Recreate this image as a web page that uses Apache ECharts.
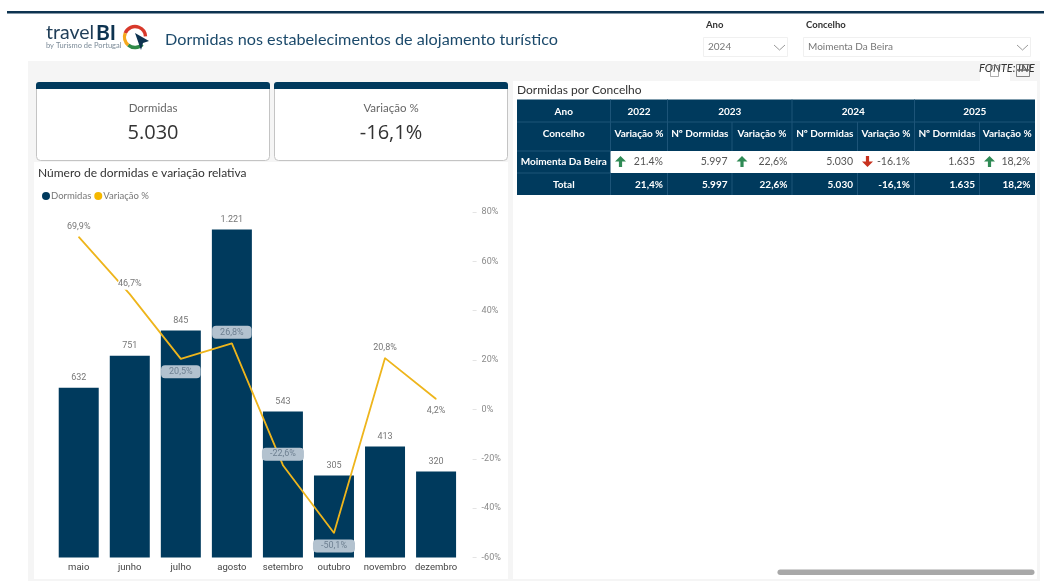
<!DOCTYPE html>
<html>
<head>
<meta charset="utf-8">
<script src="https://cdn.jsdelivr.net/npm/echarts@6/dist/echarts.min.js"></script>
<style>html,body{margin:0;padding:0;background:#fff}#c{width:1044px;height:583px}</style>
</head>
<body>
<div id="c"></div>
<script>
const meses = ['maio','junho','julho','agosto','setembro','outubro','novembro','dezembro'];
const dormidas = [632,751,845,1221,543,305,413,320];
const variacao = [69.9,46.7,20.5,26.8,-22.6,-50.1,20.8,4.2];
const variacaoTicks = [-60,80,20];
const kpiTitulos = ['Dormidas','Variação %'];
const kpiValores = ['5.030','-16,1%'];
const anosCabecalho = ['2022','2023','2024','2025'];
const colunasCabecalho = ['Variação %','Nº Dormidas','Variação %','Nº Dormidas','Variação %','Nº Dormidas','Variação %'];
const linhaConcelho = ['21.4%','5.997','22,6%','5.030','-16.1%','1.635','18,2%'];
const linhaTotal = ['21,4%','5.997','22,6%','5.030','-16,1%','1.635','18,2%'];
const setas = ['up',null,'up',null,'down',null,'up'];

const NAVY = '#003a5d', F = 'Lato, sans-serif', O = '"Open Sans", sans-serif', D = 'Roboto, sans-serif';
const g = [];
const rect = (x,y,w,h,fill,extra={}) => g.push({type:'rect',silent:true,shape:{x,y,width:w,height:h,r:extra.r||0},style:{fill,stroke:extra.stroke,lineWidth:extra.lw||0}});
const text = (x,y,t,font,fill,align='left') => g.push({type:'text',silent:true,style:{x,y,text:t,font,fill,align,verticalAlign:'middle'}});
const poly = (points,stroke,lw=1) => g.push({type:'polyline',silent:true,shape:{points},style:{stroke,lineWidth:lw,fill:null}});
const arc = (cx,cy,r,a,b,stroke,lw) => g.push({type:'arc',silent:true,shape:{cx,cy,r,startAngle:a,endAngle:b,clockwise:true},style:{stroke,lineWidth:lw,fill:null}});

// page chrome
rect(7,11,1037,2.4,'#0d3350');
rect(28,61,1012,520,'#f5f5f5');
rect(34,162,474,417,'#ffffff');
rect(513,81,524,498,'#ffffff');
rect(980,70,30,11,'#ffffff');

// logo and header
text(46,33,'travel','19.5px '+F,'#1f3d57');
text(96,33,'BI','bold 21px '+F,'#0d3350');
text(46,46,'by Turismo de Portugal','7.5px '+F,'#7c8b98');
arc(135,37,10.5,Math.PI*1.12,Math.PI*1.98,'#d8392b',3.4);
arc(135,37,10.5,Math.PI*0.72,Math.PI*1.12,'#f5a81c',3.4);
arc(135,37,10.5,Math.PI*0.25,Math.PI*0.72,'#2f8a48',3.4);
g.push({type:'polygon',silent:true,shape:{points:[[135,33],[149,41],[143,43],[141,50]]},style:{fill:'#0d3350'}});
text(165,40,'Dormidas nos estabelecimentos de alojamento turístico','16.2px '+F,'#1c4a6b');

// slicers
text(706,25,'Ano','bold 9.5px '+F,'#333333');
text(806,25,'Concelho','bold 9.5px '+F,'#333333');
rect(703.5,37.5,84,19,'#ffffff',{stroke:'#f0f0f0',lw:1});
rect(803.5,37.5,227,19,'#ffffff',{stroke:'#f0f0f0',lw:1});
text(708,47,'2024','10px '+F,'#777777');
text(808,47,'Moimenta Da Beira','10px '+F,'#777777');
poly([[774,45],[779.5,50],[785,45]],'#9a9a9a');
poly([[1017,45],[1022.5,50],[1028,45]],'#9a9a9a');

// FONTE note
text(979,68,'FONTE: INE','italic 11px '+F,'#333333');
rect(1016.5,64.5,6,5,'none',{stroke:'#666',lw:0.8});
rect(1023.5,64.5,6,5,'none',{stroke:'#666',lw:0.8});
rect(1016.5,70.5,13,6,'none',{stroke:'#666',lw:0.8});
rect(990.5,65.5,8,11,'none',{stroke:'#777',lw:0.6});

// KPI cards
[[36,233],[274,233]].forEach(([x,w],i)=>{
  rect(x+.5,82.5,w,78,'#ffffff',{stroke:'#c4c4c4',lw:1,r:4});
  rect(x,82,w+1,7,NAVY,{r:[3,3,0,0]});
  text(x+w/2+.5,108,kpiTitulos[i],'11.5px '+F,'#666666','center');
  text(x+w/2+.5,133,kpiValores[i],'20px '+O,'#333333','center');
});
text(38,173,'Número de dormidas e variação relativa','12px '+F,'#333333');
text(517,90,'Dormidas por Concelho','12px '+F,'#333333');

// table
const X = [517,610.5,667.5,732,792,857.5,914.5,979.5,1035];
const Y = [99.5,122,151,173,195];
rect(X[0],Y[0],X[8]-X[0],Y[4]-Y[0],NAVY);
rect(X[1],Y[2],X[8]-X[1],Y[3]-Y[2],'#ffffff');
const HB = 'bold 10px '+F, TC = '#ffffff', LINE = '#1d5478';
text((X[0]+X[1])/2,112,'Ano',HB,TC,'center');
text((X[0]+X[1])/2,134,'Concelho',HB,TC,'center');
text((X[0]+X[1])/2,162,'Moimenta Da Beira',HB,TC,'center');
text((X[0]+X[1])/2,185,'Total',HB,TC,'center');
const anoSpan = [[1,2],[2,4],[4,6],[6,8]];
anosCabecalho.forEach((a,i)=>text((X[anoSpan[i][0]]+X[anoSpan[i][1]])/2,112,a,HB,TC,'center'));
colunasCabecalho.forEach((c,i)=>{
  text((X[i+1]+X[i+2])/2,134,c,HB,TC,'center');
  const r = X[i+2]-4.5;
  text(r,162,linhaConcelho[i],'10.5px '+F,'#555555','right');
  text(r,185,linhaTotal[i],HB,TC,'right');
  const cx = X[i+1]+10;
  if(setas[i]==='up') g.push({type:'polygon',silent:true,shape:{points:[[cx,156],[cx+5.5,161.5],[cx+1.6,161.5],[cx+1.6,167],[cx-1.6,167],[cx-1.6,161.5],[cx-5.5,161.5]]},style:{fill:'#2f8a55'}});
  if(setas[i]==='down') g.push({type:'polygon',silent:true,shape:{points:[[cx,167],[cx+5.5,161.5],[cx+1.6,161.5],[cx+1.6,156],[cx-1.6,156],[cx-1.6,161.5],[cx-5.5,161.5]]},style:{fill:'#c8321f'}});
});
[1,2,4,6].forEach(i=>poly([[X[i],Y[0]],[X[i],Y[1]]],LINE));
[1,2,3,4,5,6,7].forEach(i=>{poly([[X[i],Y[1]],[X[i],Y[2]]],LINE);poly([[X[i],Y[3]],[X[i],Y[4]]],LINE);});
poly([[X[0],Y[1]],[X[8],Y[1]]],LINE);
poly([[X[0],Y[3]],[X[1],Y[3]]],LINE);
poly([[X[0],Y[2]],[X[1],Y[2]]],LINE);

// scrollbar
rect(777.5,569.5,257,5.5,'#a8a8a8',{r:2.7});

const labelPos = ['top','top','bottom','top','top','bottom','top','bottom'];
const boxed = [false,false,true,true,true,true,false,false];
const fmtPct = v => v.toFixed(1).replace('.',',')+'%';
const fmtMil = v => v>=1000 ? String(v).replace(/(\d)(\d{3})$/,'$1.$2') : String(v);

const chart = echarts.init(document.getElementById('c'),null,{renderer:'canvas'});
chart.setOption({
  animation:false,
  backgroundColor:'#ffffff',
  graphic:{elements:g},
  legend:{left:37,top:186,itemWidth:8,itemHeight:8,itemGap:3,icon:'circle',
    textStyle:{fontFamily:F,fontSize:9.5,color:'#777777',padding:[0,0,0,-4]},
    data:['Dormidas','Variação %']},
  grid:{left:53.2,top:212,width:408.4,height:345.5,containLabel:false},
  xAxis:{type:'category',data:meses,axisLine:{show:false},axisTick:{show:false},
    axisLabel:{fontFamily:D,fontSize:9.5,color:'#444444',margin:5,interval:0}},
  yAxis:[
    {type:'value',min:0,max:1286,show:false,splitLine:{show:false}},
    {type:'value',position:'right',offset:11,min:variacaoTicks[0],max:variacaoTicks[1],interval:variacaoTicks[2],
     splitLine:{show:false},axisLine:{show:false},
     axisTick:{show:true,length:4,lineStyle:{color:'#e4e4e4'}},
     axisLabel:{fontFamily:D,fontSize:9,color:'#8a8a8a',margin:9,padding:[4,0,0,0],formatter:v=>v+'%'}}
  ],
  series:[
    {name:'Dormidas',type:'bar',yAxisIndex:0,data:dormidas,barWidth:40,
     itemStyle:{color:NAVY},
     label:{show:true,position:'top',distance:5,fontFamily:D,fontSize:9,color:'#777777',formatter:p=>fmtMil(p.value)}},
    {name:'Variação %',type:'line',yAxisIndex:1,symbol:'circle',symbolSize:1,showSymbol:true,showAllSymbol:true,z:3,
     itemStyle:{color:'#f5b800'},lineStyle:{color:'#eeb51c',width:1.8},
     label:{show:true},
     data:variacao.map((v,i)=>({
       value:v,
       label:{show:true,position:labelPos[i],distance:labelPos[i]==='top'?4:6,
         formatter:fmtPct(v),fontFamily:D,fontSize:9,color:boxed[i]?'#6f8192':'#777777',
         backgroundColor:boxed[i]?'#b3c2cf':(i===1?'#ffffff':'transparent'),
         borderRadius:4,padding:boxed[i]?[2,8,2,8]:[1,0,1,0]}
     }))}
  ]
});
</script>
</body>
</html>
